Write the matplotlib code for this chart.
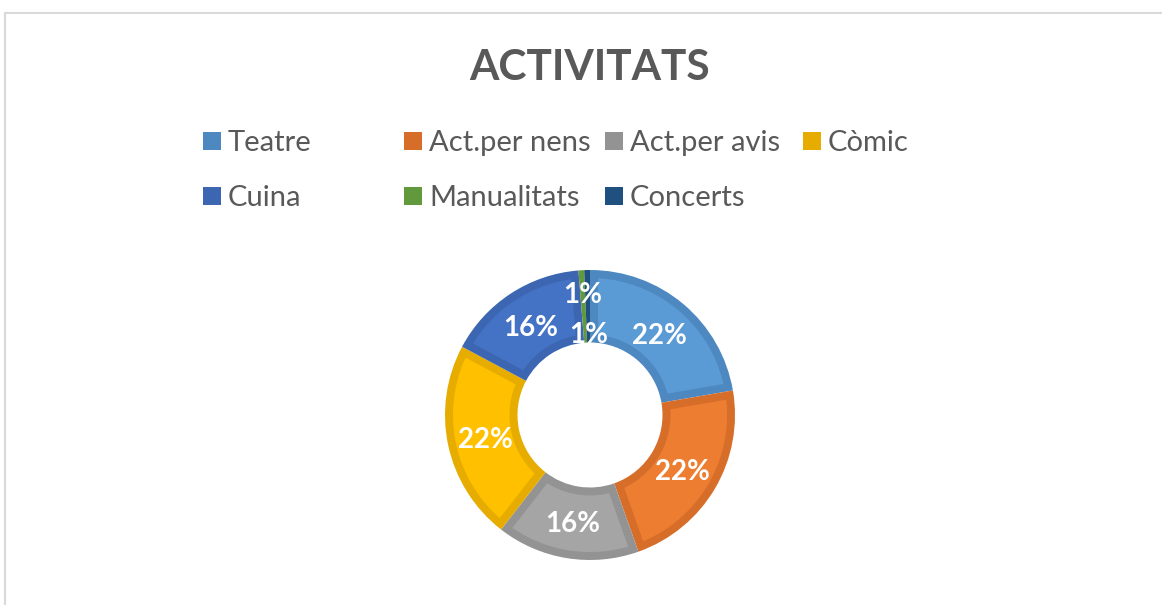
import numpy as np
import matplotlib.pyplot as plt
from matplotlib.patches import Rectangle, Polygon

labels = ["Teatre", "Act.per nens", "Act.per avis", "Còmic", "Cuina", "Manualitats", "Concerts"]
values = [35, 35, 25, 35, 25, 1, 1]

fills = ["#5B9BD5", "#ED7D31", "#A5A5A5", "#FFC000", "#4472C4", "#70AD47", "#255E91"]
edges = ["#4E88C1", "#D66E2A", "#939393", "#E6AD00", "#3C66B1", "#62993D", "#1F5080"]
label_r = [0.74, 0.74, 0.74, 0.74, 0.74, 0.85, 0.57]
border = 0.055  # inner border width, in radius units

plt.rcParams['font.family'] = ['Lato', 'DejaVu Sans']
W, H = 1162, 605
fig = plt.figure(figsize=(W / 100, H / 100), dpi=100)

# chart frame
fig.patches.append(Rectangle((5 / W, -0.05), 1.1, 1 - 13 / H + 0.05, transform=fig.transFigure,
                             fill=False, edgecolor="#D9D9D9", linewidth=1.5))

fig.text(590 / W, 1 - 68 / H, "ACTIVITATS", ha="center", va="center",
         fontsize=30.5, fontweight="bold", color="#595959")

# legend, 4 fixed-width columns like Excel
col_x = [203, 404, 605, 803]
row_y = [141, 196]
for i, name in enumerate(labels):
    cx = col_x[i % 4]
    cy = row_y[i // 4]
    fig.patches.append(Rectangle((cx / W, 1 - (cy + 9) / H), 18 / W, 18 / H,
                                 transform=fig.transFigure, facecolor=edges[i], edgecolor="none"))
    fig.text((cx + 25) / W, 1 - (cy + 2) / H, name, ha="left", va="center",
             fontsize=21, color="#595959")

ax = fig.add_axes([445 / W, 45 / H, 290 / W, 290 / H])
wedges, _ = ax.pie(values, colors=edges, startangle=90, counterclock=False,
                   radius=1.0, wedgeprops=dict(width=0.5, linewidth=0))

# lighter fill inset inside each slice (Excel-like inner border)
for w, fc in zip(wedges, fills):
    r_out = w.r - border
    r_in = w.r - w.width + border
    t1, t2 = np.radians(w.theta1), np.radians(w.theta2)
    rs_o = np.full(60, r_out)
    rs_i = np.full(60, r_in)
    a_o1, a_o2 = t1 + np.arcsin(border / r_out), t2 - np.arcsin(border / r_out)
    a_i1, a_i2 = t1 + np.arcsin(border / r_in), t2 - np.arcsin(border / r_in)
    if a_i2 <= a_i1:
        continue
    ang_o = np.linspace(a_o1, a_o2, 60)
    ang_i = np.linspace(a_i2, a_i1, 60)
    xs = np.concatenate([rs_o * np.cos(ang_o), rs_i * np.cos(ang_i)])
    ys = np.concatenate([rs_o * np.sin(ang_o), rs_i * np.sin(ang_i)])
    ax.add_patch(Polygon(np.column_stack([xs, ys]), closed=True, facecolor=fc, edgecolor="none"))

total = sum(values)
cum = np.cumsum([0] + values)
for i, v in enumerate(values):
    mid = (cum[i] + v / 2) / total * 2 * np.pi
    r = label_r[i]
    ax.text(r * np.sin(mid), r * np.cos(mid) - 0.02, f"{round(100 * v / total)}%",
            ha="center", va="center", fontsize=20, fontweight="bold", color="white")

ax.set_xlim(-1, 1)
ax.set_ylim(-1, 1)
ax.set_aspect("equal")
ax.axis("off")

fig.savefig("out.png", dpi=100)
